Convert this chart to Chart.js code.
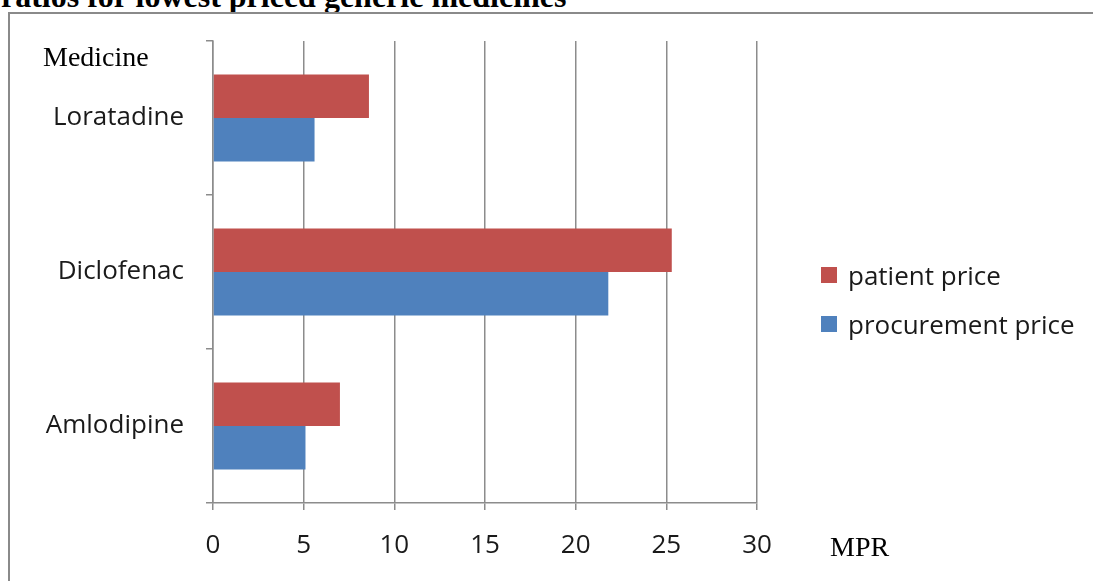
<!DOCTYPE html>
<html>
<head>
<meta charset="utf-8">
<script src="https://cdn.jsdelivr.net/npm/chart.js@4"></script>
<style>
  body { margin: 0; background: #fff; }
  #wrap { position: relative; width: 1093px; height: 581px; overflow: hidden; background: #fff; }
  #titulo { position: absolute; left: 1px; top: -22px; font: bold 32px "Liberation Serif", serif; color: #000; white-space: nowrap; }
  #moldura { position: absolute; left: 8px; top: 12px; width: 1200px; height: 700px; border-top: 2px solid #8a8a8a; border-left: 2px solid #8a8a8a; }
  #grafico { position: absolute; left: 0; top: 0; }
  .rotulo { position: absolute; font: 28px "Liberation Serif", serif; color: #000; white-space: nowrap; }
  #legenda { position: absolute; left: 821px; top: 260px; font: 26px "Open Sans", sans-serif; color: #1a1a1a; }
  #legenda div { display: flex; align-items: center; height: 30px; margin-bottom: 19px; white-space: nowrap; }
  #legenda span.caixa { display: inline-block; width: 16px; height: 16px; margin-right: 11px; }
</style>
</head>
<body>
<div id="wrap">
  <div id="titulo">ratios for lowest priced generic medicines</div>
  <div id="moldura"></div>
  <canvas id="grafico" width="1093" height="581"></canvas>
  <div class="rotulo" style="left:43px; top:41px;">Medicine</div>
  <div class="rotulo" style="left:830px; top:531px;">MPR</div>
  <div id="legenda"></div>
</div>
<script>
const medicamentos = ['Loratadine', 'Diclofenac', 'Amlodipine'];
const precoPaciente = [8.6, 25.3, 7.0];
const precoAquisicao = [5.6, 21.8, 5.1];
const ticksMPR = [0, 5, 10, 15, 20, 25, 30];

const cinza = '#8c8c8c';
const fonteEixo = { family: '"Open Sans", sans-serif', size: 26 };

const series = [
  { label: 'patient price', data: precoPaciente, backgroundColor: '#C0504D' },
  { label: 'procurement price', data: precoAquisicao, backgroundColor: '#4F81BD' }
];

new Chart(document.getElementById('grafico'), {
  type: 'bar',
  data: {
    labels: medicamentos,
    datasets: series.map(s => ({ ...s, categoryPercentage: 0.565, barPercentage: 1, borderWidth: 0 }))
  },
  options: {
    indexAxis: 'y',
    responsive: false,
    animation: false,
    layout: { padding: { top: 41, left: 10, right: 336, bottom: 0 } },
    plugins: { legend: { display: false }, tooltip: { enabled: false } },
    scales: {
      x: {
        min: ticksMPR[0],
        max: ticksMPR[ticksMPR.length - 1],
        afterBuildTicks: axis => { axis.ticks = ticksMPR.map(v => ({ value: v })); },
        afterFit: axis => { axis.height = 78; },
        grid: { color: cinza, lineWidth: 1.5, tickLength: 7 },
        border: { color: cinza, width: 1.5 },
        ticks: { color: '#1a1a1a', font: fonteEixo, padding: 20, maxRotation: 0 }
      },
      y: {
        afterFit: axis => { axis.width = 203; },
        grid: { drawOnChartArea: false, offset: true, color: cinza, lineWidth: 1.5, tickLength: 7 },
        border: { color: cinza, width: 1.5 },
        ticks: { color: '#1a1a1a', font: fonteEixo, padding: 22 }
      }
    }
  }
});

// legenda montada a partir das séries
const legenda = document.getElementById('legenda');
series.forEach(s => {
  legenda.innerHTML += `<div><span class="caixa" style="background:${s.backgroundColor}"></span>${s.label}</div>`;
});
</script>
</body>
</html>
